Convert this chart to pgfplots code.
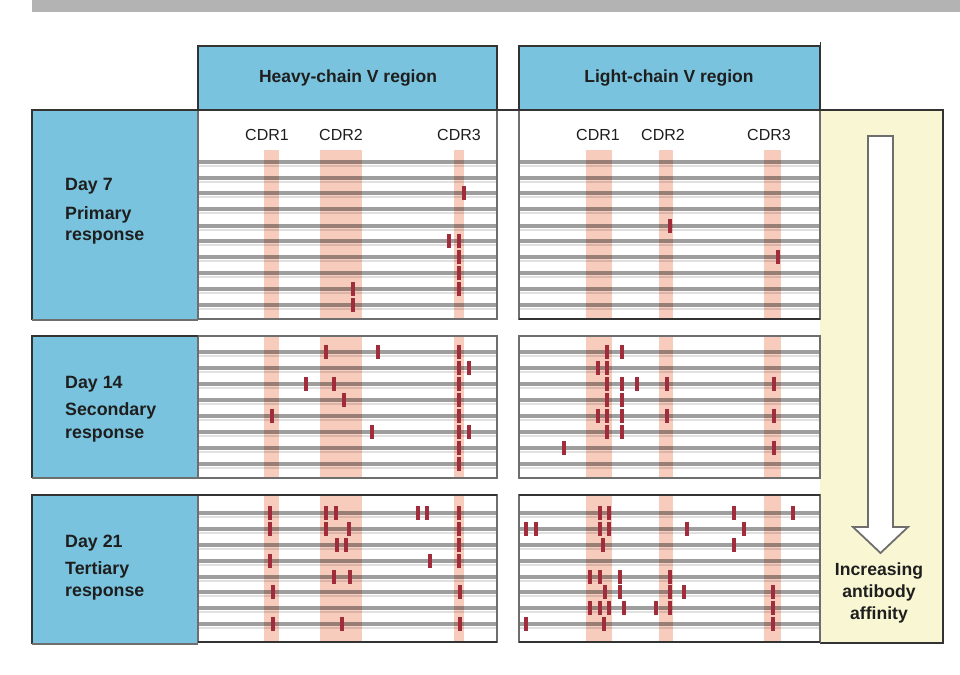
\documentclass[border=0pt]{standalone}
\usepackage{pgfplots}
\pgfplotsset{compat=1.18}
\usepackage{fontspec}
\setmainfont{Liberation Sans}
\definecolor{hblue}{HTML}{79C3DE}
\definecolor{cdr}{HTML}{F7CCBD}
\definecolor{mred}{HTML}{A02C3C}
\definecolor{pyel}{HTML}{F9F7D3}
\definecolor{topgray}{HTML}{B3B3B3}
\definecolor{bord}{HTML}{333333}
\definecolor{pbord}{HTML}{6E6E6E}
\definecolor{txt}{HTML}{1E1E1E}
\begin{document}
\begin{tikzpicture}
\begin{axis}[x=1pt,y=1pt,xmin=0,xmax=960,ymin=0,ymax=674,y dir=reverse,hide axis,clip=false,
  mut/.style={only marks,mark=|,mark size=7.2pt,mark options={line width=4.2pt,draw=mred}}]
% background
\fill[white] (axis cs:0,0) rectangle (axis cs:960,674);
\fill[topgray] (axis cs:32,0) rectangle (axis cs:960,12);
% headers
\fill[hblue] (axis cs:198,46) rectangle (axis cs:497,110);
\fill[hblue] (axis cs:519,46) rectangle (axis cs:820,110);
\draw[bord,line width=1.6pt] (axis cs:198,110) -- (axis cs:198,46) -- (axis cs:497,46) -- (axis cs:497,110);
\draw[bord,line width=1.6pt] (axis cs:519,110) -- (axis cs:519,46) -- (axis cs:820,46) -- (axis cs:820,110);
\draw[bord,line width=1pt] (axis cs:820,46) -- (axis cs:820,42);
% yellow panel
\fill[pyel] (axis cs:820,110) rectangle (axis cs:943,643);
\draw[bord,line width=1.6pt] (axis cs:820,110) -- (axis cs:943,110) -- (axis cs:943,643) -- (axis cs:820,643);
% left blue boxes
\fill[hblue] (axis cs:32,110) rectangle (axis cs:198,320);
\fill[hblue] (axis cs:32,336) rectangle (axis cs:198,478);
\fill[hblue] (axis cs:32,495) rectangle (axis cs:198,644);
% CDR bands heavy
\fill[cdr] (axis cs:264,150) rectangle (axis cs:279,319);
\fill[cdr] (axis cs:320,150) rectangle (axis cs:362,319);
\fill[cdr] (axis cs:454,150) rectangle (axis cs:464,319);
\fill[cdr] (axis cs:264,336) rectangle (axis cs:279,478);
\fill[cdr] (axis cs:320,336) rectangle (axis cs:362,478);
\fill[cdr] (axis cs:454,336) rectangle (axis cs:464,478);
\fill[cdr] (axis cs:264,495) rectangle (axis cs:279,642);
\fill[cdr] (axis cs:320,495) rectangle (axis cs:362,642);
\fill[cdr] (axis cs:454,495) rectangle (axis cs:464,642);
% CDR bands light
\fill[cdr] (axis cs:586,150) rectangle (axis cs:612,319);
\fill[cdr] (axis cs:659,150) rectangle (axis cs:673,319);
\fill[cdr] (axis cs:764,150) rectangle (axis cs:781,319);
\fill[cdr] (axis cs:586,336) rectangle (axis cs:612,478);
\fill[cdr] (axis cs:659,336) rectangle (axis cs:673,478);
\fill[cdr] (axis cs:764,336) rectangle (axis cs:781,478);
\fill[cdr] (axis cs:586,495) rectangle (axis cs:612,642);
\fill[cdr] (axis cs:659,495) rectangle (axis cs:673,642);
\fill[cdr] (axis cs:764,495) rectangle (axis cs:781,642);
% sequence lines
\pgfplotsinvokeforeach{162,178,193,209,226,241,257,273,289,305,352,368,384,400,416,432,448,464,513,529,545,561,577,592,608,624}{
  \draw[black,opacity=0.38,line width=3.4pt] (axis cs:198,#1) -- (axis cs:497,#1);
  \draw[black,opacity=0.12,line width=2.6pt] (axis cs:198,#1+3.8) -- (axis cs:497,#1+3.8);
  \draw[black,opacity=0.38,line width=3.4pt] (axis cs:519,#1) -- (axis cs:820,#1);
  \draw[black,opacity=0.12,line width=2.6pt] (axis cs:519,#1+3.8) -- (axis cs:820,#1+3.8);
}
% panel borders
\draw[pbord,line width=1.4pt] (axis cs:198,110) rectangle (axis cs:497,319);
\draw[pbord,line width=1.4pt] (axis cs:519,110) rectangle (axis cs:820,319);
\draw[bord,line width=2pt] (axis cs:519,319) -- (axis cs:820,319);
\draw[pbord,line width=1.4pt] (axis cs:198,336) rectangle (axis cs:497,478);
\draw[pbord,line width=1.4pt] (axis cs:519,336) rectangle (axis cs:820,478);
\draw[pbord,line width=1.4pt] (axis cs:198,495) rectangle (axis cs:497,642);
\draw[pbord,line width=1.4pt] (axis cs:519,495) rectangle (axis cs:820,642);
\draw[bord,line width=1.6pt] (axis cs:198,495) -- (axis cs:497,495);
\draw[bord,line width=1.6pt] (axis cs:519,495) -- (axis cs:820,495);
\draw[bord,line width=1.6pt] (axis cs:198,642) -- (axis cs:497,642);
\draw[bord,line width=1.6pt] (axis cs:519,642) -- (axis cs:820,642);
\draw[bord,line width=1.6pt] (axis cs:32,320) -- (axis cs:32,110) -- (axis cs:943,110);
\draw[pbord,line width=1.4pt] (axis cs:32,320) -- (axis cs:198,320);
\draw[bord,line width=1.6pt] (axis cs:32,478) -- (axis cs:32,336) -- (axis cs:198,336);
\draw[pbord,line width=1.4pt] (axis cs:32,478) -- (axis cs:198,478);
\draw[bord,line width=1.6pt] (axis cs:32,644) -- (axis cs:32,495) -- (axis cs:198,495);
\draw[pbord,line width=1.4pt] (axis cs:32,644) -- (axis cs:198,644);
% arrow
\draw[fill=white,draw=pbord,line width=1.8pt,line join=miter]
  (axis cs:868,136) -- (axis cs:893,136) -- (axis cs:893,527) -- (axis cs:908,527)
  -- (axis cs:880.5,553) -- (axis cs:853,527) -- (axis cs:868,527) -- cycle;
% mutations: Day 7
\addplot[mut] coordinates {(464,193) (449,241) (459,241) (459,257) (459,273) (459,289) (353,289) (353,305)};
\addplot[mut] coordinates {(670,226) (778,257)};
% Day 14
\addplot[mut] coordinates {(326,352) (378,352) (459,352) (459,368) (469,368) (306,384) (334,384) (459,384)
  (344,400) (459,400) (272,416) (459,416) (372,432) (459,432) (469,432) (459,448) (459,464)};
\addplot[mut] coordinates {(607,352) (622,352) (598,368) (607,368) (607,384) (622,384) (637,384) (667,384) (774,384)
  (607,400) (622,400) (598,416) (607,416) (622,416) (667,416) (774,416) (607,432) (622,432) (564,448) (774,448)};
% Day 21
\addplot[mut] coordinates {(270,513) (326,513) (336,513) (418,513) (427,513) (459,513)
  (270,529) (326,529) (349,529) (459,529) (337,545) (346,545) (459,545)
  (270,561) (430,561) (459,561) (334,577) (350,577) (273,592) (460,592)
  (273,624) (342,624) (460,624)};
\addplot[mut] coordinates {(600,513) (609,513) (734,513) (793,513)
  (526,529) (536,529) (600,529) (609,529) (687,529) (744,529)
  (603,545) (734,545) (590,577) (600,577) (620,577) (670,577)
  (605,592) (620,592) (670,592) (684,592) (773,592)
  (590,608) (600,608) (609,608) (624,608) (656,608) (670,608) (773,608)
  (526,624) (604,624) (773,624)};
% texts
\node[font=\fontsize{17.5}{20}\selectfont\bfseries,text=txt] at (axis cs:348,78) {Heavy-chain V region};
\node[font=\fontsize{17.5}{20}\selectfont\bfseries,text=txt] at (axis cs:669,78) {Light-chain V region};
\tikzset{cdrl/.style={font=\fontsize{16}{18}\selectfont,text=txt}}
\node[cdrl] at (axis cs:267,135) {CDR1};
\node[cdrl] at (axis cs:341,135) {CDR2};
\node[cdrl] at (axis cs:459,135) {CDR3};
\node[cdrl] at (axis cs:598,135) {CDR1};
\node[cdrl] at (axis cs:663,135) {CDR2};
\node[cdrl] at (axis cs:769,135) {CDR3};
\tikzset{lab/.style={anchor=west,inner sep=0pt,font=\fontsize{17.8}{20}\selectfont\bfseries,text=txt}}
\node[lab] at (axis cs:65,186) {Day 7};
\node[lab] at (axis cs:65,215) {Primary};
\node[lab] at (axis cs:65,238) {response};
\node[lab] at (axis cs:65,384) {Day 14};
\node[lab] at (axis cs:65,411) {Secondary};
\node[lab] at (axis cs:65,436) {response};
\node[lab] at (axis cs:65,543) {Day 21};
\node[lab] at (axis cs:65,570) {Tertiary};
\node[lab] at (axis cs:65,594) {response};
\tikzset{inc/.style={inner sep=0pt,font=\fontsize{17.6}{20}\selectfont\bfseries,text=txt}}
\node[inc] at (axis cs:879,571) {Increasing};
\node[inc] at (axis cs:879,593) {antibody};
\node[inc] at (axis cs:879,615) {affinity};
\end{axis}
\end{tikzpicture}
\end{document}
